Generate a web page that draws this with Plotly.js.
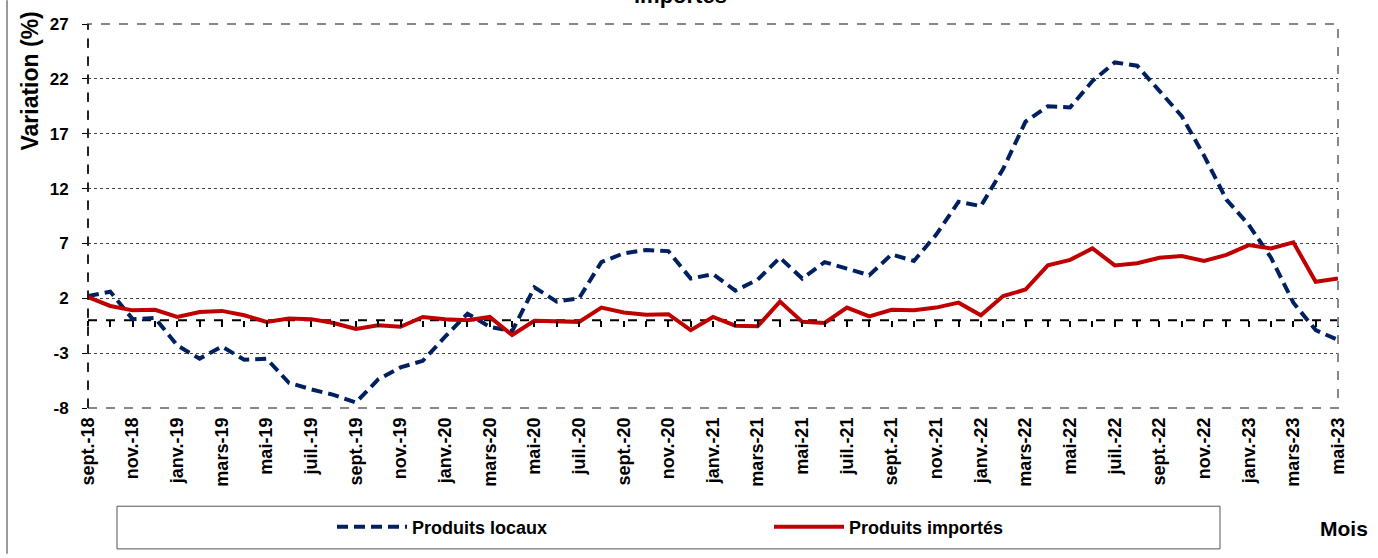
<!DOCTYPE html>
<html>
<head>
<meta charset="utf-8">
<script src="https://cdn.plot.ly/plotly-3.0.1.min.js"></script>
<style>html,body{margin:0;padding:0;background:#fff}#chart{width:1378px;height:558px}</style>
</head>
<body>
<div id="chart"></div>
<script>
const months = ["sept.-18","oct.-18","nov.-18","déc.-18",
"janv.-19","févr.-19","mars-19","avr.-19","mai-19","juin-19","juil.-19","août-19","sept.-19","oct.-19","nov.-19","déc.-19",
"janv.-20","févr.-20","mars-20","avr.-20","mai-20","juin-20","juil.-20","août-20","sept.-20","oct.-20","nov.-20","déc.-20",
"janv.-21","févr.-21","mars-21","avr.-21","mai-21","juin-21","juil.-21","août-21","sept.-21","oct.-21","nov.-21","déc.-21",
"janv.-22","févr.-22","mars-22","avr.-22","mai-22","juin-22","juil.-22","août-22","sept.-22","oct.-22","nov.-22","déc.-22",
"janv.-23","févr.-23","mars-23","avr.-23","mai-23"];
const produitsLocaux = [2.2,2.6,0.1,0.2,-2.3,-3.5,-2.4,-3.6,-3.5,-5.7,-6.3,-6.8,-7.5,-5.4,-4.3,-3.7,-1.5,0.6,-0.6,-1.0,3.0,1.7,2.0,5.3,6.1,6.4,6.3,3.8,4.2,2.7,3.7,5.7,3.8,5.3,4.7,4.1,6.0,5.4,7.8,10.8,10.4,13.8,18.1,19.5,19.4,21.8,23.5,23.2,20.9,18.6,15.0,11.0,8.7,5.7,1.6,-0.9,-1.8];
const produitsImportes = [2.1,1.3,0.9,0.95,0.3,0.75,0.85,0.45,-0.15,0.15,0.1,-0.25,-0.8,-0.45,-0.6,0.3,0.1,0.0,0.3,-1.35,-0.05,-0.1,-0.15,1.15,0.7,0.5,0.55,-0.9,0.3,-0.5,-0.55,1.7,-0.15,-0.25,1.15,0.35,0.95,0.9,1.15,1.6,0.45,2.2,2.8,5.0,5.5,6.55,5.0,5.2,5.7,5.85,5.4,5.95,6.85,6.55,7.1,3.5,3.8];
const yTicks = [-8,-3,2,7,12,17,22,27];
const yTickText = ["-8","-3","2","7","12","17","22","27"];
const shownMonths = months.filter((m,i)=>i%2===0);
const seriesNames = ["Produits locaux","Produits importés"];

const F = "Liberation Sans, Arial, sans-serif";
const W = 1378, H = 558, L = 88, R = 40, T = 24, B = 147;
const pw = W-L-R, ph = H-T-B;
const px = x => (x-L)/pw;          // pixel -> paper x
const py = y => (H-B-y)/ph;        // pixel -> paper y

const traces = [
  {x: months, y: produitsLocaux, name: seriesNames[0], type:'scatter', mode:'lines',
   line:{color:'#002060', width:4, dash:'11px,6px'}, hoverinfo:'skip'},
  {x: months, y: produitsImportes, name: seriesNames[1], type:'scatter', mode:'lines',
   line:{color:'#C00000', width:4}, hoverinfo:'skip'},
  {x: months, y: months.map(()=>null), xaxis:'x2', type:'scatter', mode:'lines',
   showlegend:false, hoverinfo:'skip'}
];

const layout = {
  width: W, height: H,
  margin:{l:L, r:R, t:T, b:B, pad:0},
  paper_bgcolor:'#fff', plot_bgcolor:'#fff',
  font:{family:F, color:'#000', size:17, weight:'bold'},
  showlegend:true,
  legend:{orientation:'h', x:px(332), xanchor:'left', y:py(531), yanchor:'middle',
    bgcolor:'rgba(0,0,0,0)', borderwidth:0, itemwidth:70, entrywidth:352,
    font:{family:F, size:18, weight:'bold', color:'#000'}},
  xaxis:{type:'category', range:[0,56], showgrid:false, zeroline:false, showline:false,
    tickmode:'array', tickvals:shownMonths, ticktext:shownMonths, tickangle:-90, ticks:'',
    ticklabelstandoff:5,
    tickfont:{family:F, size:18, weight:'bold'}, fixedrange:true},
  xaxis2:{type:'category', range:[0,56], overlaying:'x', anchor:'free', position:8/35,
    tickmode:'linear', tick0:0, dtick:1, ticks:'outside', ticklen:6, tickwidth:2, tickcolor:'#000',
    showticklabels:false, showgrid:false, zeroline:false, showline:false},
  yaxis:{range:[-8,27], tickmode:'array', tickvals:yTicks, ticktext:yTickText, ticks:'outside', ticklen:5, tickwidth:1,
    tickcolor:'#000', ticklabelstandoff:10, showgrid:true, gridcolor:'#444', griddash:'dot', gridwidth:1,
    zeroline:false, showline:false, tickfont:{family:F, size:17, weight:'bold'}},
  shapes:[
    {type:'rect', xref:'paper', yref:'paper', x0:0, x1:1, y0:0, y1:1, line:{color:'#888', width:2, dash:'dash'}, layer:'above'},
    {type:'line', xref:'paper', yref:'paper', x0:0, x1:0, y0:0, y1:1, line:{color:'#000', width:1.5, dash:'dash'}, layer:'above'},
    {type:'line', xref:'paper', yref:'y', x0:0, x1:1, y0:0, y1:0, line:{color:'#000', width:2, dash:'dash'}, layer:'below'},
    {type:'rect', xref:'paper', yref:'paper', x0:px(117), x1:px(1220), y0:py(553), y1:py(510), line:{color:'#555', width:1}},
    {type:'line', xref:'paper', yref:'paper', x0:px(7), x1:px(7), y0:py(0), y1:py(558), line:{color:'#777', width:1.5}}
  ],
  annotations:[
    {text:'importés', xref:'paper', yref:'paper', x:px(680), y:py(10), xanchor:'center', yanchor:'bottom',
     showarrow:false, font:{family:F, size:22, weight:'bold'}},
    {text:'Variation (%)', xref:'paper', yref:'paper', x:px(30), y:py(82), xanchor:'center', yanchor:'middle',
     textangle:-90, showarrow:false, font:{family:F, size:23, weight:'bold'}},
    {text:'Mois', xref:'paper', yref:'paper', x:px(1344), y:py(532), xanchor:'center', yanchor:'middle',
     showarrow:false, font:{family:F, size:21, weight:'bold'}}
  ]
};
Plotly.newPlot('chart', traces, layout, {staticPlot:true, displayModeBar:false});
</script>
</body>
</html>
